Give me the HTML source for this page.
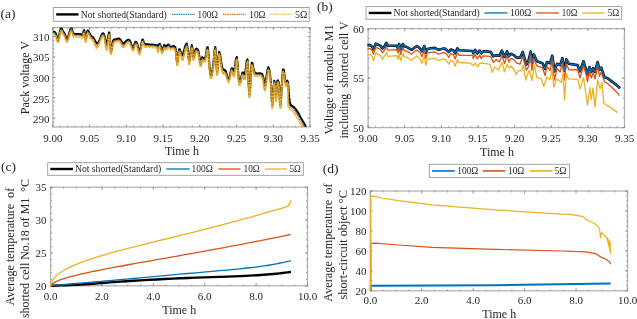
<!DOCTYPE html>
<html><head><meta charset="utf-8"><style>
html,body{margin:0;padding:0;background:#fff;}
body{width:637px;height:319px;overflow:hidden;}
svg{display:block;font-family:"Liberation Serif", serif;filter:blur(0.35px);}
</style></head><body>
<svg width="637" height="319" viewBox="0 0 637 319">
<rect width="637" height="319" fill="#fff"/>
<rect x="52.9" y="27.5" width="257.1" height="99.5" fill="none" stroke="#b3b3b3" stroke-width="1.3"/>
<path d="M52.9 127v-2.6M52.9 27.5v2.6M89.63 127v-2.6M89.63 27.5v2.6M126.36 127v-2.6M126.36 27.5v2.6M163.09 127v-2.6M163.09 27.5v2.6M199.81 127v-2.6M199.81 27.5v2.6M236.54 127v-2.6M236.54 27.5v2.6M273.27 127v-2.6M273.27 27.5v2.6M310 127v-2.6M310 27.5v2.6M52.9 127v-1.5M52.9 27.5v1.5M60.25 127v-1.5M60.25 27.5v1.5M67.59 127v-1.5M67.59 27.5v1.5M74.94 127v-1.5M74.94 27.5v1.5M82.28 127v-1.5M82.28 27.5v1.5M89.63 127v-1.5M89.63 27.5v1.5M96.97 127v-1.5M96.97 27.5v1.5M104.32 127v-1.5M104.32 27.5v1.5M111.67 127v-1.5M111.67 27.5v1.5M119.01 127v-1.5M119.01 27.5v1.5M126.36 127v-1.5M126.36 27.5v1.5M133.7 127v-1.5M133.7 27.5v1.5M141.05 127v-1.5M141.05 27.5v1.5M148.39 127v-1.5M148.39 27.5v1.5M155.74 127v-1.5M155.74 27.5v1.5M163.09 127v-1.5M163.09 27.5v1.5M170.43 127v-1.5M170.43 27.5v1.5M177.78 127v-1.5M177.78 27.5v1.5M185.12 127v-1.5M185.12 27.5v1.5M192.47 127v-1.5M192.47 27.5v1.5M199.81 127v-1.5M199.81 27.5v1.5M207.16 127v-1.5M207.16 27.5v1.5M214.51 127v-1.5M214.51 27.5v1.5M221.85 127v-1.5M221.85 27.5v1.5M229.2 127v-1.5M229.2 27.5v1.5M236.54 127v-1.5M236.54 27.5v1.5M243.89 127v-1.5M243.89 27.5v1.5M251.23 127v-1.5M251.23 27.5v1.5M258.58 127v-1.5M258.58 27.5v1.5M265.93 127v-1.5M265.93 27.5v1.5M273.27 127v-1.5M273.27 27.5v1.5M280.62 127v-1.5M280.62 27.5v1.5M287.96 127v-1.5M287.96 27.5v1.5M295.31 127v-1.5M295.31 27.5v1.5M302.65 127v-1.5M302.65 27.5v1.5M310 127v-1.5M310 27.5v1.5M52.9 118.2h2.6M310 118.2h-2.6M52.9 97.8h2.6M310 97.8h-2.6M52.9 77.4h2.6M310 77.4h-2.6M52.9 57h2.6M310 57h-2.6M52.9 36.6h2.6M310 36.6h-2.6M52.9 122.28h1.5M310 122.28h-1.5M52.9 118.2h1.5M310 118.2h-1.5M52.9 114.12h1.5M310 114.12h-1.5M52.9 110.04h1.5M310 110.04h-1.5M52.9 105.96h1.5M310 105.96h-1.5M52.9 101.88h1.5M310 101.88h-1.5M52.9 97.8h1.5M310 97.8h-1.5M52.9 93.72h1.5M310 93.72h-1.5M52.9 89.64h1.5M310 89.64h-1.5M52.9 85.56h1.5M310 85.56h-1.5M52.9 81.48h1.5M310 81.48h-1.5M52.9 77.4h1.5M310 77.4h-1.5M52.9 73.32h1.5M310 73.32h-1.5M52.9 69.24h1.5M310 69.24h-1.5M52.9 65.16h1.5M310 65.16h-1.5M52.9 61.08h1.5M310 61.08h-1.5M52.9 57h1.5M310 57h-1.5M52.9 52.92h1.5M310 52.92h-1.5M52.9 48.84h1.5M310 48.84h-1.5M52.9 44.76h1.5M310 44.76h-1.5M52.9 40.68h1.5M310 40.68h-1.5M52.9 36.6h1.5M310 36.6h-1.5M52.9 32.52h1.5M310 32.52h-1.5M52.9 28.44h1.5M310 28.44h-1.5" stroke="#8c8c8c" stroke-width="0.8" fill="none"/>
<clipPath id="ca"><rect x="52.9" y="27.5" width="257.1" height="99.5"/></clipPath>
<g clip-path="url(#ca)" fill="none" stroke-linejoin="round">
<polyline points="52.4,31.5 53.08,31.56 54.04,31.68 54.9,32.1 55.5,32.94 56,34.08 56.5,35.4 57.03,37.4 57.56,39.58 58.1,40.3 58.67,38.38 59.25,35.01 59.8,32.1 60.29,30.22 60.74,28.8 61.2,28.1 61.64,28.39 62.08,29.4 62.6,30.5 63.24,31.46 63.95,32.52 64.7,33.8 65.47,35.87 66.28,38.17 67.1,39.1 67.96,37.58 68.82,34.7 69.6,32.1 70.22,30.08 70.75,28.35 71.3,27.7 71.94,28.91 72.61,31.21 73.2,33 73.45,33.61 73.63,33.73 74.4,33.8 76.39,33.93 78.97,34.02 81,34.2 81.91,34.78 82.26,35.45 82.6,35.4 83.1,33.6 83.59,31.08 84.1,30.1 84.65,32.56 85.22,36.56 85.8,38.7 86.34,36.72 86.9,32.87 87.6,30.5 88.56,31.33 89.66,33.63 90.7,35.6 91.58,36.4 92.41,36.87 93.3,37.7 94.36,39.5 95.49,41.66 96.5,43.1 97.25,43.49 97.89,43.16 98.7,42 99.88,39.3 101.23,35.79 102.4,33.5 103.21,33.32 103.85,34.38 104.5,36.1 105.21,39.3 105.93,43.16 106.7,44.7 107.57,40.97 108.49,34.92 109.3,32.4 109.89,37.67 110.36,46.47 110.9,51.89 111.57,50.14 112.31,45 113.1,40.9 113.91,39.64 114.77,39.42 115.7,39.3 116.78,38.93 117.93,38.65 118.9,38.6 119.51,38.8 119.94,39.21 120.5,39.9 121.28,41.21 122.19,42.78 123.2,43.6 124.41,42.97 125.73,41.59 126.9,40.5 127.8,40.03 128.55,39.86 129.2,40 129.7,40.45 130.09,41.23 130.6,42.4 131.33,44.57 132.16,47.13 133,48.31 133.82,46.78 134.64,43.88 135.4,41.9 136.02,41.69 136.58,42.41 137.2,43.8 137.94,46.75 138.75,50.37 139.6,51.74 140.54,48.55 141.52,43.1 142.4,39.5 143.09,39.85 143.67,42.04 144.3,43.8 144.74,44.2 145.22,44.17 146.6,44.2 149.82,44.46 153.94,44.79 157,45.2 157.97,45.93 157.88,46.74 157.9,47 158.44,45.91 159.09,44.26 159.8,43.8 160.58,46 161.42,49.38 162.2,51.25 162.87,49.92 163.49,47.08 164.1,45.1 164.68,45.2 165.25,46.16 165.9,46.7 166.7,46.09 167.57,45.05 168.4,44.5 169.03,44.97 169.61,45.93 170.5,46.7 172.01,46.43 173.81,45.97 175.3,47.2 176.15,52.4 176.67,59.3 177.2,62.94 177.83,59.92 178.45,53.64 179.1,49.3 179.8,49.36 180.53,51.35 181.2,53.1 181.69,54.27 182.11,55.2 182.8,54.7 183.98,50.84 185.42,45.55 186.7,43.5 187.64,48.58 188.42,56.9 189.2,61.41 190.06,57.43 190.92,49.66 191.7,45.1 192.34,47.96 192.9,54.04 193.5,57.77 194.16,56.14 194.84,52.16 195.6,49.3 196.47,48.65 197.41,49.12 198.3,50.9 199.13,55.26 199.91,60.95 200.6,64.35 201.07,63.2 201.44,59.78 202,57.3 202.93,57.66 204.04,58.96 205.1,58.8 206,54.41 206.84,48.55 207.7,47.1 208.63,54.82 209.59,66.95 210.5,75.12 211.33,75.69 212.11,72.31 212.9,67.5 213.72,59.92 214.54,50.93 215.3,47.1 215.93,54.12 216.5,66.3 217.1,73.21 217.74,68.19 218.41,57.89 219.2,51.8 220.16,54.98 221.22,62.37 222.3,68.2 223.36,69.79 224.44,69.83 225.5,70.6 226.54,73.87 227.57,77.87 228.6,79.6 229.66,76.77 230.72,71.67 231.7,68.2 232.54,68.83 233.3,71.09 234.1,71.4 234.99,66.44 235.9,59.53 236.8,57.1 237.62,64.15 238.42,75.68 239.3,83.13 240.34,81.84 241.47,76.47 242.5,72.5 243.35,72.83 244.11,74.55 244.9,74.4 245.78,68.78 246.68,61.28 247.5,59.4 248.17,70.02 248.76,86.26 249.4,94.97 250.14,87.7 250.94,72.9 251.8,62.8 252.56,63.37 253.37,68.63 254.7,72.9 257.04,73.57 259.89,73.23 262.2,74 263.43,78 264.13,83.1 264.9,85 266.01,79.98 267.2,71.76 268.3,67.2 269.27,69.53 270.15,75.53 270.9,82.4 271.43,91.28 271.83,101.04 272.3,105.48 272.93,99.32 273.63,87.84 274.3,80.7 274.93,83.63 275.54,90.9 276.1,95 276.55,91.63 276.95,85.08 277.4,80.7 277.99,80.45 278.63,82.36 279.2,85.9 279.59,93.5 279.92,102.73 280.4,105.73 281.18,96.08 282.12,80.19 283,69.5 283.78,69.8 284.51,75.29 285.1,80 285.48,81.92 285.72,83.07 286,83.5 286.38,82.7 286.79,81.19 287.2,80.6 287.59,81.35 287.98,83.03 288.4,86 288.77,91.31 289.18,97.91 289.9,103.1 291.13,105.42 292.66,106.31 294.2,107.4 295.76,109.42 297.31,111.63 298.5,113.4 298.87,114.01 298.88,114.19 299.5,115.4 301.5,118.93 304.11,123.5 306,126.8" stroke="#000" stroke-width="2.1"/>
<polyline points="52.4,32.4 53.08,32.46 54.04,32.58 54.9,33 55.5,33.82 56,34.93 56.5,36.3 57.03,38.51 57.56,40.97 58.1,41.83 58.67,39.77 59.25,36.12 59.8,33 60.29,31.07 60.74,29.68 61.2,29 61.64,29.29 62.08,30.3 62.6,31.4 63.24,32.34 63.95,33.38 64.7,34.7 65.47,36.95 66.28,39.49 67.1,40.54 67.96,38.9 68.82,35.78 69.6,33 70.22,30.94 70.75,29.23 71.3,28.6 71.94,29.81 72.61,32.11 73.2,33.9 73.45,34.51 73.63,34.63 74.4,34.7 76.39,34.83 78.97,34.92 81,35.1 81.91,35.68 82.26,36.35 82.6,36.3 83.1,34.45 83.59,31.88 84.1,31 84.65,33.88 85.22,38.44 85.8,40.86 86.34,38.6 86.9,34.19 87.6,31.4 88.56,32.13 89.66,34.48 90.7,36.5 91.58,37.21 92.41,37.58 93.3,38.6 94.36,41.24 95.49,44.52 96.5,46.52 97.25,46.35 97.89,44.9 98.7,42.9 99.88,40.02 101.23,36.59 102.4,34.4 103.21,34.11 103.85,35.05 104.5,37 105.21,41.22 105.93,46.44 106.7,48.66 107.57,44.25 108.49,36.85 109.3,33.3 109.89,38.31 110.36,47.19 110.9,52.7 111.57,50.97 112.31,45.87 113.1,41.8 113.91,40.54 114.77,40.32 115.7,40.2 116.78,39.83 117.93,39.55 118.9,39.5 119.51,39.64 119.94,39.99 120.5,40.8 121.28,42.65 122.19,44.94 123.2,46.12 124.41,45.13 125.73,43.03 126.9,41.4 127.8,40.81 128.55,40.7 129.2,40.9 129.7,41.36 130.09,42.14 130.6,43.3 131.33,45.45 132.16,47.98 133,49.15 133.82,47.63 134.64,44.76 135.4,42.8 136.02,42.6 136.58,43.31 137.2,44.7 137.94,47.66 138.75,51.29 139.6,52.67 140.54,49.47 141.52,44.01 142.4,40.4 143.09,40.75 143.67,42.94 144.3,44.7 144.74,45.1 145.22,45.07 146.6,45.1 149.82,45.25 153.94,45.47 157,46.1 157.97,47.79 157.88,49.88 157.9,50.78 158.44,49.05 159.09,46.13 159.8,44.7 160.58,46.65 161.42,50.09 162.2,52.04 162.87,50.69 163.49,47.86 164.1,46 164.68,46.47 165.25,47.91 165.9,48.68 166.7,47.83 167.57,46.31 168.4,45.4 169.03,45.79 169.61,46.79 170.5,47.6 172.01,47.32 173.81,46.86 175.3,48.1 176.15,53.34 176.67,60.28 177.2,63.93 177.83,60.89 178.45,54.57 179.1,50.2 179.8,50.14 180.53,52.02 181.2,54 181.69,56.19 182.11,58.48 182.8,58.66 183.98,54.11 185.42,47.47 186.7,44.4 187.64,49.28 188.42,57.74 189.2,62.38 190.06,58.39 190.92,50.59 191.7,46 192.34,48.81 192.9,54.84 193.5,58.55 194.16,56.95 194.84,53.02 195.6,50.2 196.47,49.56 197.41,50.02 198.3,51.8 199.13,56.16 199.91,61.84 200.6,65.24 201.07,64.09 201.44,60.67 202,58.2 202.93,58.56 204.04,59.86 205.1,59.7 206,55.3 206.84,49.44 207.7,48 208.63,55.76 209.59,67.95 210.5,76.15 211.33,76.69 212.11,73.25 212.9,68.4 213.72,60.81 214.54,51.82 215.3,48 215.93,55.02 216.5,67.2 217.1,74.11 217.74,69.01 218.41,58.63 219.2,52.7 220.16,56.63 221.22,65.02 222.3,71.35 223.36,72.44 224.44,71.48 225.5,71.5 226.54,74.58 227.57,78.64 228.6,80.44 229.66,77.52 230.72,72.34 231.7,69.1 232.54,70.7 233.3,74.23 234.1,75.18 234.99,69.58 235.9,61.39 236.8,58 237.62,64.81 238.42,76.41 239.3,83.96 240.34,82.56 241.47,77.11 242.5,73.4 243.35,74.82 244.11,77.98 244.9,78.54 245.78,72.2 246.68,63.26 247.5,60.3 248.17,70.7 248.76,87.08 249.4,95.92 250.14,88.64 250.94,73.82 251.8,63.7 252.56,64.27 253.37,69.53 254.7,73.8 257.04,74.32 259.89,73.85 262.2,74.9 263.43,80.19 264.13,87.01 264.9,89.77 266.01,83.89 267.2,73.95 268.3,68.1 269.27,70.14 270.15,76.29 270.9,83.3 271.43,92.18 271.83,101.92 272.3,106.36 272.93,100.06 273.63,88.45 274.3,81.6 274.93,85.79 275.54,94.75 276.1,99.68 276.55,95.47 276.95,87.24 277.4,81.6 277.99,81.07 278.63,83.13 279.2,86.8 279.59,94.37 279.92,103.55 280.4,106.53 281.18,96.9 282.12,81.06 283,70.4 283.78,70.71 284.51,76.19 285.1,80.9 285.48,82.82 285.72,83.97 286,84.4 286.38,83.6 286.79,82.09 287.2,81.5 287.61,82.25 288.02,83.93 288.4,86.9 288.6,92.21 288.76,98.81 289.3,104 290.48,106.32 292.04,107.21 293.6,108.3 295.16,110.32 296.71,112.53 297.9,114.3 298.27,114.91 298.28,115.09 298.9,116.3 300.9,119.83 303.51,124.4 305.4,127.7" stroke="#0072BD" stroke-width="1.3" stroke-dasharray="1 0.8"/>
<polyline points="52.4,33.2 53.08,33.26 54.04,33.38 54.9,33.8 55.5,34.62 56,35.74 56.5,37.1 57.03,39.27 57.56,41.67 58.1,42.5 58.67,40.47 59.25,36.87 59.8,33.8 60.29,31.88 60.74,30.49 61.2,29.8 61.64,30.09 62.08,31.1 62.6,32.2 63.24,33.14 63.95,34.19 64.7,35.5 65.47,37.71 66.28,40.18 67.1,41.2 67.96,39.59 68.82,36.53 69.6,33.8 70.22,31.75 70.75,30.04 71.3,29.4 71.94,30.61 72.61,32.91 73.2,34.7 73.45,35.31 73.63,35.43 74.4,35.5 76.39,35.63 78.97,35.72 81,35.9 81.91,36.48 82.26,37.15 82.6,37.1 83.1,35.26 83.59,32.69 84.1,31.8 84.65,34.66 85.22,39.2 85.8,41.6 86.34,39.35 86.9,34.97 87.6,32.2 88.56,32.94 89.66,35.29 90.7,37.3 91.58,38 92.41,38.37 93.3,39.4 94.36,42.06 95.49,45.38 96.5,47.4 97.25,47.21 97.89,45.72 98.7,43.7 99.88,40.81 101.23,37.39 102.4,35.2 103.21,34.9 103.85,35.84 104.5,37.8 105.21,42.06 105.93,47.35 106.7,49.6 107.57,45.15 108.49,37.67 109.3,34.1 109.89,39.2 110.36,48.22 110.9,53.8 111.57,52 112.31,46.77 113.1,42.6 113.91,41.32 114.77,41.11 115.7,41 116.78,40.63 117.93,40.35 118.9,40.3 119.51,40.44 119.94,40.8 120.5,41.6 121.28,43.44 122.19,45.73 123.2,46.9 124.41,45.92 125.73,43.83 126.9,42.2 127.8,41.61 128.55,41.5 129.2,41.7 129.7,42.14 130.09,42.91 130.6,44.1 131.33,46.36 132.16,49.05 133,50.3 133.82,48.7 134.64,45.67 135.4,43.6 136.02,43.35 136.58,44.06 137.2,45.5 137.94,48.63 138.75,52.5 139.6,54 140.54,50.68 141.52,44.99 142.4,41.2 143.09,41.51 143.67,43.72 144.3,45.5 144.74,45.9 145.22,45.87 146.6,45.9 149.82,46.05 153.94,46.26 157,46.9 157.97,48.63 157.88,50.77 157.9,51.7 158.44,49.94 159.09,46.95 159.8,45.5 160.58,47.53 161.42,51.09 162.2,53.1 162.87,51.7 163.49,48.76 164.1,46.8 164.68,47.22 165.25,48.63 165.9,49.4 166.7,48.56 167.57,47.08 168.4,46.2 169.03,46.6 169.61,47.59 170.5,48.4 172.01,48.1 173.81,47.61 175.3,48.9 176.15,54.36 176.67,61.6 177.2,65.4 177.83,62.21 178.45,55.6 179.1,51 179.8,50.88 180.53,52.79 181.2,54.8 181.69,57.04 182.11,59.39 182.8,59.6 183.98,55 185.42,48.27 186.7,45.2 187.64,50.27 188.42,59.01 189.2,63.8 190.06,59.67 190.92,51.58 191.7,46.8 192.34,49.65 192.9,55.81 193.5,59.6 194.16,57.94 194.84,53.9 195.6,51 196.47,50.32 197.41,50.78 198.3,52.6 199.13,57.11 199.91,63 200.6,66.5 201.07,65.25 201.44,61.63 202,59 202.93,59.32 204.04,60.64 205.1,60.5 206,56.07 206.84,50.18 207.7,48.8 208.63,56.81 209.59,69.33 210.5,77.7 211.33,78.08 212.11,74.3 212.9,69.2 213.72,61.54 214.54,52.56 215.3,48.8 215.93,55.98 216.5,68.39 217.1,75.4 217.74,70.19 218.41,59.59 219.2,53.5 220.16,57.41 221.22,65.84 222.3,72.2 223.36,73.27 224.44,72.27 225.5,72.3 226.54,75.5 227.57,79.71 228.6,81.6 229.66,78.59 230.72,73.25 231.7,69.9 232.54,71.51 233.3,75.11 234.1,76.1 234.99,70.46 235.9,62.21 236.8,58.8 237.62,65.71 238.42,77.47 239.3,85.1 240.34,83.62 241.47,78.01 242.5,74.2 243.35,75.64 244.11,78.89 244.9,79.5 245.78,73.1 246.68,64.07 247.5,61.1 248.17,71.68 248.76,88.32 249.4,97.3 250.14,89.89 250.94,74.81 251.8,64.5 252.56,65.02 253.37,70.31 254.7,74.6 257.04,75.11 259.89,74.63 262.2,75.7 263.43,81.07 264.13,87.99 264.9,90.8 266.01,84.87 267.2,74.82 268.3,68.9 269.27,70.91 270.15,77.04 270.9,84.1 271.43,93.12 271.83,103.07 272.3,107.6 272.93,101.2 273.63,89.38 274.3,82.4 274.93,86.63 275.54,95.7 276.1,100.7 276.55,96.44 276.95,88.11 277.4,82.4 277.99,81.84 278.63,83.9 279.2,87.6 279.59,95.26 279.92,104.56 280.4,107.6 281.18,97.91 282.12,81.95 283,71.2 283.78,71.49 284.51,76.98 285.1,81.7 285.48,83.62 285.72,84.77 286,85.2 286.38,84.4 286.79,82.89 287.2,82.3 287.63,83.05 288.07,84.73 288.4,87.7 288.42,93.01 288.34,99.61 288.7,104.8 289.84,107.12 291.42,108.01 293,109.1 294.56,111.12 296.11,113.33 297.3,115.1 297.67,115.71 297.68,115.89 298.3,117.1 300.3,120.63 302.91,125.2 304.8,128.5" stroke="#D95319" stroke-width="1.4" stroke-dasharray="1 0.8"/>
<polyline points="52.4,34.3 53.08,34.36 54.04,34.48 54.9,34.9 55.5,35.74 56,36.88 56.5,38.2 57.03,40.2 57.56,42.38 58.1,43.1 58.67,41.18 59.25,37.81 59.8,34.9 60.29,33.02 60.74,31.6 61.2,30.9 61.64,31.19 62.08,32.2 62.6,33.3 63.24,34.26 63.95,35.32 64.7,36.6 65.47,38.67 66.28,40.97 67.1,41.9 67.96,40.38 68.82,37.5 69.6,34.9 70.22,32.88 70.75,31.15 71.3,30.5 71.94,31.71 72.61,34.01 73.2,35.8 73.45,36.41 73.63,36.53 74.4,36.6 76.39,36.73 78.97,36.82 81,37 81.91,37.58 82.26,38.25 82.6,38.2 83.1,36.38 83.59,33.84 84.1,32.9 84.65,35.53 85.22,39.75 85.8,42 86.34,39.91 86.9,35.84 87.6,33.3 88.56,34.09 89.66,36.41 90.7,38.4 91.58,39.13 92.41,39.53 93.3,40.5 94.36,42.93 95.49,45.94 96.5,47.8 97.25,47.77 97.89,46.59 98.7,44.8 99.88,41.96 101.23,38.51 102.4,36.3 103.21,36.03 103.85,36.99 104.5,38.9 105.21,42.93 105.93,47.9 106.7,50 107.57,45.73 108.49,38.59 109.3,35.2 109.89,40.12 110.36,48.8 110.9,54.2 111.57,52.56 112.31,47.63 113.1,43.7 113.91,42.47 114.77,42.24 115.7,42.1 116.78,41.73 117.93,41.45 118.9,41.4 119.51,41.56 119.94,41.95 120.5,42.7 121.28,44.31 122.19,46.28 123.2,47.3 124.41,46.47 125.73,44.69 126.9,43.3 127.8,42.77 128.55,42.62 129.2,42.8 129.7,43.27 130.09,44.06 130.6,45.2 131.33,47.23 132.16,49.6 133,50.7 133.82,49.26 134.64,46.54 135.4,44.7 136.02,44.53 136.58,45.24 137.2,46.6 137.94,49.5 138.75,53.06 139.6,54.4 140.54,51.23 141.52,45.86 142.4,42.3 143.09,42.66 143.67,44.85 144.3,46.6 144.74,47 145.22,46.97 146.6,47 149.82,47.17 153.94,47.41 157,48 157.97,49.49 157.88,51.33 157.9,52.1 158.44,50.52 159.09,47.87 159.8,46.6 160.58,48.44 161.42,51.67 162.2,53.5 162.87,52.28 163.49,49.67 164.1,47.9 164.68,48.14 165.25,49.21 165.9,49.8 166.7,49.12 167.57,47.95 168.4,47.3 169.03,47.75 169.61,48.72 170.5,49.5 172.01,49.23 173.81,48.76 175.3,50 176.15,55.23 176.67,62.15 177.2,65.8 177.83,62.77 178.45,56.46 179.1,52.1 179.8,52.06 180.53,53.96 181.2,55.9 181.69,57.9 182.11,59.94 182.8,60 183.98,55.58 185.42,49.19 186.7,46.3 187.64,51.19 188.42,59.6 189.2,64.2 190.06,60.25 190.92,52.5 191.7,47.9 192.34,50.57 192.9,56.4 193.5,60 194.16,58.5 194.84,54.77 195.6,52.1 196.47,51.5 197.41,51.96 198.3,53.7 199.13,57.98 199.91,63.55 200.6,66.9 201.07,65.81 201.44,62.49 202,60.1 202.93,60.47 204.04,61.77 205.1,61.6 206,57.2 206.84,51.33 207.7,49.9 208.63,57.68 209.59,69.89 210.5,78.1 211.33,78.63 212.11,75.17 212.9,70.3 213.72,62.72 214.54,53.74 215.3,49.9 215.93,56.85 216.5,68.94 217.1,75.8 217.74,70.77 218.41,60.51 219.2,54.6 220.16,58.33 221.22,66.42 222.3,72.6 223.36,73.85 224.44,73.19 225.5,73.4 226.54,76.41 227.57,80.3 228.6,82 229.66,79.17 230.72,74.17 231.7,71 232.54,72.43 233.3,75.69 234.1,76.5 234.99,71.04 235.9,63.13 236.8,59.9 237.62,66.63 238.42,78.06 239.3,85.5 240.34,84.2 241.47,78.93 242.5,75.3 243.35,76.56 244.11,79.47 244.9,79.9 245.78,73.68 246.68,64.99 247.5,62.2 248.17,72.6 248.76,88.9 249.4,97.7 250.14,90.44 250.94,75.68 251.8,65.6 252.56,66.17 253.37,71.44 254.7,75.7 257.04,76.24 259.89,75.78 262.2,76.8 263.43,81.93 264.13,88.54 264.9,91.2 266.01,85.42 267.2,75.69 268.3,70 269.27,72.09 270.15,78.22 270.9,85.2 271.43,93.99 271.83,103.62 272.3,108 272.93,101.78 273.63,90.3 274.3,83.5 274.93,87.55 275.54,96.28 276.1,101.1 276.55,97 276.95,88.98 277.4,83.5 277.99,83.02 278.63,85.08 279.2,88.7 279.59,96.13 279.92,105.12 280.4,108 281.18,98.46 282.12,82.81 283,72.3 283.78,72.64 284.51,78.11 285.1,82.8 285.48,84.72 285.72,85.87 286,86.3 286.38,85.5 286.79,83.99 287.2,83.4 287.66,84.15 288.12,85.83 288.4,88.8 288.21,94.11 287.84,100.71 288,105.9 289.09,108.22 290.69,109.11 292.3,110.2 293.86,112.22 295.41,114.43 296.6,116.2 296.97,116.81 296.98,116.99 297.6,118.2 299.6,121.73 302.21,126.3 304.1,129.6" stroke="#EDB120" stroke-width="2.2" stroke-dasharray="1 0.45"/>
</g>
<text x="49.5" y="123.1" font-size="11" text-anchor="end" fill="#262626">290</text>
<text x="49.5" y="102.52" font-size="11" text-anchor="end" fill="#262626">295</text>
<text x="49.5" y="81.95" font-size="11" text-anchor="end" fill="#262626">300</text>
<text x="49.5" y="61.38" font-size="11" text-anchor="end" fill="#262626">305</text>
<text x="49.5" y="40.8" font-size="11" text-anchor="end" fill="#262626">310</text>
<text x="52.9" y="141.5" font-size="11" text-anchor="middle" fill="#262626">9.00</text>
<text x="89.63" y="141.5" font-size="11" text-anchor="middle" fill="#262626">9.05</text>
<text x="126.36" y="141.5" font-size="11" text-anchor="middle" fill="#262626">9.10</text>
<text x="163.09" y="141.5" font-size="11" text-anchor="middle" fill="#262626">9.15</text>
<text x="199.81" y="141.5" font-size="11" text-anchor="middle" fill="#262626">9.20</text>
<text x="236.54" y="141.5" font-size="11" text-anchor="middle" fill="#262626">9.25</text>
<text x="273.27" y="141.5" font-size="11" text-anchor="middle" fill="#262626">9.30</text>
<text x="310" y="141.5" font-size="11" text-anchor="middle" fill="#262626">9.35</text>
<text x="182" y="155.3" font-size="12" text-anchor="middle" fill="#262626">Time h</text>
<text x="28.6" y="77.6" font-size="12" text-anchor="middle" fill="#262626" transform="rotate(-90 28.6 77.6)">Pack voltage V</text>
<text x="0.6" y="17.6" font-size="13.5" text-anchor="start" fill="#262626">(a)</text>
<rect x="53.3" y="7.5" width="255.9" height="13.8" fill="#fff" stroke="#9a9a9a" stroke-width="0.9"/>
<path d="M56.2 14.4H78.5" stroke="#000" stroke-width="2.4"/>
<text x="80.8" y="17.7" font-size="9.5" text-anchor="start" fill="#262626" textLength="86" lengthAdjust="spacingAndGlyphs">Not shorted(Standard)</text>
<path d="M171.9 14.4H195.4" stroke="#0072BD" stroke-width="1.4" stroke-dasharray="1 0.8"/>
<text x="197.6" y="17.7" font-size="9.5" text-anchor="start" fill="#262626" textLength="20.4" lengthAdjust="spacingAndGlyphs">100&#937;</text>
<path d="M223 14.4H246" stroke="#D95319" stroke-width="1.4" stroke-dasharray="1 0.8"/>
<text x="249.3" y="17.7" font-size="9.5" text-anchor="start" fill="#262626" textLength="16.2" lengthAdjust="spacingAndGlyphs">10&#937;</text>
<path d="M269.7 14.4H292.7" stroke="#EDB120" stroke-width="1.4" stroke-dasharray="1 0.8"/>
<text x="295" y="17.7" font-size="9.5" text-anchor="start" fill="#262626" textLength="12.3" lengthAdjust="spacingAndGlyphs">5&#937;</text>
<rect x="368.1" y="28.6" width="256.4" height="99" fill="none" stroke="#b3b3b3" stroke-width="1.3"/>
<path d="M368.1 127.6v-2.6M368.1 28.6v2.6M404.73 127.6v-2.6M404.73 28.6v2.6M441.36 127.6v-2.6M441.36 28.6v2.6M477.99 127.6v-2.6M477.99 28.6v2.6M514.61 127.6v-2.6M514.61 28.6v2.6M551.24 127.6v-2.6M551.24 28.6v2.6M587.87 127.6v-2.6M587.87 28.6v2.6M624.5 127.6v-2.6M624.5 28.6v2.6M368.1 127.6v-1.5M368.1 28.6v1.5M375.43 127.6v-1.5M375.43 28.6v1.5M382.75 127.6v-1.5M382.75 28.6v1.5M390.08 127.6v-1.5M390.08 28.6v1.5M397.4 127.6v-1.5M397.4 28.6v1.5M404.73 127.6v-1.5M404.73 28.6v1.5M412.05 127.6v-1.5M412.05 28.6v1.5M419.38 127.6v-1.5M419.38 28.6v1.5M426.71 127.6v-1.5M426.71 28.6v1.5M434.03 127.6v-1.5M434.03 28.6v1.5M441.36 127.6v-1.5M441.36 28.6v1.5M448.68 127.6v-1.5M448.68 28.6v1.5M456.01 127.6v-1.5M456.01 28.6v1.5M463.33 127.6v-1.5M463.33 28.6v1.5M470.66 127.6v-1.5M470.66 28.6v1.5M477.99 127.6v-1.5M477.99 28.6v1.5M485.31 127.6v-1.5M485.31 28.6v1.5M492.64 127.6v-1.5M492.64 28.6v1.5M499.96 127.6v-1.5M499.96 28.6v1.5M507.29 127.6v-1.5M507.29 28.6v1.5M514.61 127.6v-1.5M514.61 28.6v1.5M521.94 127.6v-1.5M521.94 28.6v1.5M529.27 127.6v-1.5M529.27 28.6v1.5M536.59 127.6v-1.5M536.59 28.6v1.5M543.92 127.6v-1.5M543.92 28.6v1.5M551.24 127.6v-1.5M551.24 28.6v1.5M558.57 127.6v-1.5M558.57 28.6v1.5M565.89 127.6v-1.5M565.89 28.6v1.5M573.22 127.6v-1.5M573.22 28.6v1.5M580.55 127.6v-1.5M580.55 28.6v1.5M587.87 127.6v-1.5M587.87 28.6v1.5M595.2 127.6v-1.5M595.2 28.6v1.5M602.52 127.6v-1.5M602.52 28.6v1.5M609.85 127.6v-1.5M609.85 28.6v1.5M617.17 127.6v-1.5M617.17 28.6v1.5M624.5 127.6v-1.5M624.5 28.6v1.5M368.1 127.6h2.6M624.5 127.6h-2.6M368.1 78.1h2.6M624.5 78.1h-2.6M368.1 28.6h2.6M624.5 28.6h-2.6M368.1 127.6h1.5M624.5 127.6h-1.5M368.1 117.7h1.5M624.5 117.7h-1.5M368.1 107.8h1.5M624.5 107.8h-1.5M368.1 97.9h1.5M624.5 97.9h-1.5M368.1 88h1.5M624.5 88h-1.5M368.1 78.1h1.5M624.5 78.1h-1.5M368.1 68.2h1.5M624.5 68.2h-1.5M368.1 58.3h1.5M624.5 58.3h-1.5M368.1 48.4h1.5M624.5 48.4h-1.5M368.1 38.5h1.5M624.5 38.5h-1.5M368.1 28.6h1.5M624.5 28.6h-1.5" stroke="#8c8c8c" stroke-width="0.8" fill="none"/>
<g fill="none" stroke-linejoin="round">
<polyline points="367.5,45.1 370.1,45.1 372,46.6 373.5,49.3 375.8,43.6 378,44.8 380.7,45.9 382.5,48.5 384.4,46.3 386.3,42.9 387.8,45.5 396.8,45.9 398,48.5 399.1,44 400.6,49.3 402.8,44 404.3,46.5 407,47.1 411.5,49.8 413.8,48.3 416.8,46 419.8,48.3 422,51.3 424.3,46 425.8,52.8 427.3,49 431.1,48.3 434.8,47.9 438.6,49.8 441.6,49 444.3,48.4 446.5,49.9 448.8,52.2 450.6,49.5 453.3,50.3 455.2,53.3 457.4,48.4 458.9,50.3 472.8,51 473.2,53.3 475.1,49.9 477.3,53.3 479.6,50.6 481.3,53.3 483.2,51.3 490.7,51.9 493.2,56.3 496.3,55.1 499.5,55.7 502,50.7 504.5,57 507,51.3 508.9,56.3 510.8,53.8 513.9,55.1 516.4,57.6 520.2,57.6 522.7,51.9 526.4,64.5 528.3,61.3 530.7,51.5 531.9,62.6 533.8,54.4 536.9,61.3 542.5,63.2 545.1,68.9 546.9,62 550.1,63.2 552.3,55.7 554.5,71.4 557,63.8 560.1,65.1 562.4,58.2 564.4,71 566.4,59.4 568.9,63.8 577.5,65.1 580,71.3 583.5,61.3 586.3,70.1 587.5,75.1 589.4,67 591.3,72 593.2,68.2 595,72 597.6,62 599.5,70 601.3,67.6 604.5,77.3 607.6,78.3 611.4,81.1 616.4,85 620.2,88.2" stroke="#000" stroke-width="2.6"/>
<polyline points="367.5,45.1 370.1,45.1 372,46.6 373.5,49.3 375.8,43.6 378,44.8 380.7,45.9 382.5,48.5 384.4,46.3 386.3,42.9 387.8,45.5 396.8,45.9 398,48.5 399.1,44 400.6,49.3 402.8,44 404.3,46.5 407,47.1 411.5,49.8 413.8,48.3 416.8,46 419.8,48.3 422,51.3 424.3,46 425.8,52.8 427.3,49 431.1,48.3 434.8,47.9 438.6,49.8 441.6,49 444.3,48.4 446.5,49.9 448.8,52.2 450.6,49.5 453.3,50.3 455.2,53.3 457.4,48.4 458.9,50.3 472.8,51 473.2,53.3 475.1,49.9 477.3,53.3 479.6,50.6 481.3,53.3 483.2,51.3 490.7,51.9 493.2,56.3 496.3,55.1 499.5,55.7 502,50.7 504.5,57 507,51.3 508.9,56.3 510.8,53.8 513.9,55.1 516.4,57.6 520.2,57.6 522.7,51.9 526.4,64.5 528.3,61.3 530.7,51.5 531.9,62.6 533.8,54.4 536.9,61.3 542.5,63.2 545.1,68.9 546.9,62 550.1,63.2 552.3,55.7 554.5,71.4 557,63.8 560.1,65.1 562.4,58.2 564.4,71 566.4,59.4 568.9,63.8 577.5,65.1 580,71.3 583.5,61.3 586.3,70.1 587.5,75.1 589.4,67 591.3,72 593.2,68.2 595,72 597.6,62 599.5,70 601.3,67.6 604.5,77.3 607.6,78.3 611.4,81.1 616.4,85 620.2,88.2" stroke="#0072BD" stroke-width="1.3"/>
<polyline points="367.5,48.6 370.1,48.62 372,50.14 373.5,54.32 375.8,47.17 378,48.41 380.7,49.51 382.5,52.97 384.4,50.16 386.3,46.56 387.8,50.09 396.8,49.66 398,53 399.1,47.78 400.6,54.42 402.8,47.81 404.3,50.66 407,51.16 411.5,54.21 413.8,52.35 416.8,49.94 419.8,52.26 422,56.73 424.3,50 425.8,58.67 427.3,53.03 431.1,52.36 434.8,52 438.6,54.21 441.6,53.16 444.3,52.58 446.5,54.1 448.8,57.3 450.6,53.74 453.3,54.56 455.2,58.96 457.4,52.7 458.9,55.28 472.8,55.44 473.2,58.74 475.1,54.36 477.3,58.84 479.6,55.1 481.3,58.62 483.2,55.8 490.7,56.4 493.2,62.34 496.3,59.6 499.5,61.95 502,55.2 504.5,63.6 507,55.8 508.9,62.11 510.8,58.3 513.9,59.6 516.4,62.98 520.2,64.09 522.7,56.4 526.4,70.12 528.3,66.95 530.7,56 531.9,70.48 533.8,58.9 536.9,65.8 542.5,67.7 545.1,75.61 546.9,66.5 550.1,70.33 552.3,60.2 554.5,79.98 557,68.3 560.1,72.01 562.4,62.7 564.4,79.77 566.4,63.9 568.9,69.84 577.5,69.6 580,77.97 583.5,65.8 586.3,75.27 587.5,81.89 589.4,71.5 591.3,78.04 593.2,72.7 595,78.92 597.6,66.5 599.5,76.32 601.3,72.1 604.5,81.89 607.6,83.47 611.4,86.99 616.4,91.82 619.5,95.7" stroke="#D95319" stroke-width="1.3"/>
<polyline points="367.5,54.49 370.1,54.53 372,56.06 373.5,60.67 375.8,53.11 378,54.37 380.7,55.48 382.5,59.19 384.4,56.21 386.3,52.56 387.8,56.36 396.8,55.72 398,59.28 399.1,53.85 400.6,60.88 402.8,53.9 404.3,56.85 407,57.33 411.5,60.5 413.8,58.54 416.8,56.11 419.8,58.45 422,63.35 424.3,56.21 425.8,65.42 427.3,59.26 431.1,58.61 434.8,58.27 438.6,60.58 441.6,59.47 444.3,58.92 446.5,60.54 448.8,64.1 450.6,60.38 453.3,61.34 455.2,66.22 457.4,59.67 458.9,62.51 470,63.1 473.1,65.6 475,63 477.5,66.9 479.5,63.5 482.5,63.1 490,64.4 492.3,72.5 494.5,66.9 498.2,70 502,62.5 504.5,71.9 507,64.4 509,68 511,66 513.9,69.4 516.4,74.4 518.3,70.7 521.5,70.7 523.3,65 525.8,80.1 527.5,74.4 529.4,70 531.9,80.7 534.4,65 536.9,77.6 541.3,78.8 543.8,86.3 547,77 550.1,79.4 552,69.4 553.9,87 556.4,78.8 559,80.7 561.4,82.6 563.3,72.5 564.5,100 566.4,73.8 568.3,78.8 577.7,79.4 580.2,88.9 583.5,77.5 587.5,105 590,87.5 591.3,99.5 593,88 595,107 597.6,80 600.1,88.8 602,82.5 603.9,103.5 608.9,106.4 617.7,112.6" stroke="#EDB120" stroke-width="1.3"/>
</g>
<text x="364" y="132.3" font-size="11" text-anchor="end" fill="#262626">50</text>
<text x="364" y="82.4" font-size="11" text-anchor="end" fill="#262626">55</text>
<text x="364" y="32.9" font-size="11" text-anchor="end" fill="#262626">60</text>
<text x="368.1" y="141.5" font-size="11" text-anchor="middle" fill="#262626">9.00</text>
<text x="404.73" y="141.5" font-size="11" text-anchor="middle" fill="#262626">9.05</text>
<text x="441.36" y="141.5" font-size="11" text-anchor="middle" fill="#262626">9.10</text>
<text x="477.99" y="141.5" font-size="11" text-anchor="middle" fill="#262626">9.15</text>
<text x="514.61" y="141.5" font-size="11" text-anchor="middle" fill="#262626">9.20</text>
<text x="551.24" y="141.5" font-size="11" text-anchor="middle" fill="#262626">9.25</text>
<text x="587.87" y="141.5" font-size="11" text-anchor="middle" fill="#262626">9.30</text>
<text x="624.5" y="141.5" font-size="11" text-anchor="middle" fill="#262626">9.35</text>
<text x="497" y="155.7" font-size="12" text-anchor="middle" fill="#262626">Time h</text>
<text x="332.8" y="79.5" font-size="12" text-anchor="middle" fill="#262626" transform="rotate(-90 332.8 79.5)" textLength="110" lengthAdjust="spacingAndGlyphs">Voltage of module M1</text>
<text x="347.9" y="80" font-size="12" text-anchor="middle" fill="#262626" transform="rotate(-90 347.9 80)" textLength="117" lengthAdjust="spacingAndGlyphs">including&#160; shorted cell V</text>
<text x="317" y="10.9" font-size="13.5" text-anchor="start" fill="#262626">(b)</text>
<rect x="366" y="6.6" width="255.7" height="12.7" fill="#fff" stroke="#9a9a9a" stroke-width="0.9"/>
<path d="M368.8 12.95H391.4" stroke="#000" stroke-width="2.4"/>
<text x="393.4" y="16.25" font-size="9.5" text-anchor="start" fill="#262626" textLength="86.4" lengthAdjust="spacingAndGlyphs">Not shorted(Standard)</text>
<path d="M484.4 12.95H507.6" stroke="#0072BD" stroke-width="1.3"/>
<text x="510" y="16.25" font-size="9.5" text-anchor="start" fill="#262626" textLength="21.3" lengthAdjust="spacingAndGlyphs">100&#937;</text>
<path d="M536.2 12.95H558.9" stroke="#D95319" stroke-width="1.3"/>
<text x="561.8" y="16.25" font-size="9.5" text-anchor="start" fill="#262626" textLength="15.6" lengthAdjust="spacingAndGlyphs">10&#937;</text>
<path d="M582.3 12.95H604.5" stroke="#EDB120" stroke-width="1.3"/>
<text x="607.7" y="16.25" font-size="9.5" text-anchor="start" fill="#262626" textLength="11.6" lengthAdjust="spacingAndGlyphs">5&#937;</text>
<rect x="50.6" y="187.2" width="256.9" height="98.6" fill="none" stroke="#b3b3b3" stroke-width="1.3"/>
<path d="M50.6 285.8v-2.6M50.6 187.2v2.6M101.98 285.8v-2.6M101.98 187.2v2.6M153.36 285.8v-2.6M153.36 187.2v2.6M204.74 285.8v-2.6M204.74 187.2v2.6M256.12 285.8v-2.6M256.12 187.2v2.6M307.5 285.8v-2.6M307.5 187.2v2.6M50.6 285.8v-1.5M50.6 187.2v1.5M63.45 285.8v-1.5M63.45 187.2v1.5M76.29 285.8v-1.5M76.29 187.2v1.5M89.13 285.8v-1.5M89.13 187.2v1.5M101.98 285.8v-1.5M101.98 187.2v1.5M114.82 285.8v-1.5M114.82 187.2v1.5M127.67 285.8v-1.5M127.67 187.2v1.5M140.51 285.8v-1.5M140.51 187.2v1.5M153.36 285.8v-1.5M153.36 187.2v1.5M166.2 285.8v-1.5M166.2 187.2v1.5M179.05 285.8v-1.5M179.05 187.2v1.5M191.89 285.8v-1.5M191.89 187.2v1.5M204.74 285.8v-1.5M204.74 187.2v1.5M217.58 285.8v-1.5M217.58 187.2v1.5M230.43 285.8v-1.5M230.43 187.2v1.5M243.27 285.8v-1.5M243.27 187.2v1.5M256.12 285.8v-1.5M256.12 187.2v1.5M268.96 285.8v-1.5M268.96 187.2v1.5M281.81 285.8v-1.5M281.81 187.2v1.5M294.65 285.8v-1.5M294.65 187.2v1.5M307.5 285.8v-1.5M307.5 187.2v1.5M50.6 285.8h2.6M307.5 285.8h-2.6M50.6 252.93h2.6M307.5 252.93h-2.6M50.6 220.07h2.6M307.5 220.07h-2.6M50.6 187.2h2.6M307.5 187.2h-2.6M50.6 285.8h1.5M307.5 285.8h-1.5M50.6 279.23h1.5M307.5 279.23h-1.5M50.6 272.65h1.5M307.5 272.65h-1.5M50.6 266.08h1.5M307.5 266.08h-1.5M50.6 259.51h1.5M307.5 259.51h-1.5M50.6 252.93h1.5M307.5 252.93h-1.5M50.6 246.36h1.5M307.5 246.36h-1.5M50.6 239.79h1.5M307.5 239.79h-1.5M50.6 233.21h1.5M307.5 233.21h-1.5M50.6 226.64h1.5M307.5 226.64h-1.5M50.6 220.07h1.5M307.5 220.07h-1.5M50.6 213.49h1.5M307.5 213.49h-1.5M50.6 206.92h1.5M307.5 206.92h-1.5M50.6 200.35h1.5M307.5 200.35h-1.5M50.6 193.77h1.5M307.5 193.77h-1.5M50.6 187.2h1.5M307.5 187.2h-1.5" stroke="#8c8c8c" stroke-width="0.8" fill="none"/>
<g fill="none" stroke-linejoin="round">
<polyline points="50.8,285.8 53.49,285.69 57.06,285.56 61.32,285.4 66.05,285.22 71.05,285.02 76.11,284.79 81.03,284.56 85.6,284.3 89.74,284.02 93.63,283.72 97.4,283.4 101.22,283.06 105.24,282.71 109.61,282.35 114.48,281.97 120,281.6 126.28,281.21 133.2,280.79 140.62,280.36 148.4,279.92 156.38,279.48 164.4,279.06 172.32,278.66 180,278.3 187.71,277.97 195.7,277.66 203.82,277.38 211.88,277.11 219.7,276.85 227.11,276.6 233.94,276.35 240,276.1 245.25,275.86 249.82,275.64 253.84,275.42 257.44,275.21 260.73,275 263.84,274.78 266.89,274.55 270,274.3 273.2,274.01 276.38,273.69 279.46,273.34 282.38,272.99 285.06,272.65 287.44,272.35 289.44,272.09 291,271.9" stroke="#000" stroke-width="2.4"/>
<polyline points="50.8,285.6 53.49,285.38 57.06,285.08 61.32,284.73 66.05,284.34 71.05,283.92 76.11,283.5 81.03,283.09 85.6,282.7 89.74,282.35 93.63,282.02 97.4,281.69 101.22,281.36 105.24,281.01 109.61,280.63 114.48,280.2 120,279.7 126.28,279.13 133.2,278.5 140.62,277.82 148.4,277.1 156.38,276.37 164.4,275.63 172.32,274.9 180,274.2 187.71,273.51 195.7,272.81 203.82,272.1 211.88,271.39 219.7,270.7 227.11,270.04 233.94,269.4 240,268.8 245.25,268.25 249.82,267.75 253.84,267.28 257.44,266.83 260.73,266.39 263.84,265.95 266.89,265.49 270,265 273.2,264.46 276.38,263.86 279.46,263.24 282.38,262.61 285.06,262.02 287.44,261.48 289.44,261.04 291,260.7" stroke="#0072BD" stroke-width="1.3"/>
<polyline points="50.6,286.6 50.94,285.44 51.64,284.53 52.59,283.69 53.75,282.89 55.1,282.12 56.63,281.38 58.31,280.65 60.15,279.93 62.13,279.23 64.25,278.53 66.5,277.84 68.88,277.15 71.37,276.47 73.99,275.78 76.72,275.1 79.56,274.42 82.51,273.74 85.56,273.06 88.72,272.37 91.98,271.69 95.34,271 98.8,270.3 102.35,269.6 106,268.89 109.74,268.18 113.57,267.46 117.49,266.73 121.5,265.99 125.59,265.25 129.77,264.49 134.03,263.72 138.38,262.95 142.81,262.16 147.32,261.36 151.92,260.55 156.59,259.72 161.34,258.89 166.16,258.03 171.07,257.16 176.05,256.28 181.1,255.38 186.23,254.46 191.44,253.53 196.71,252.58 202.06,251.61 207.49,250.62 212.98,249.62 218.54,248.59 224.17,247.54 229.88,246.47 235.65,245.38 241.49,244.27 247.39,243.13 253.37,241.97 259.41,240.79 265.52,239.58 271.69,238.35 277.93,237.09 284.23,235.8 290.6,234.49" stroke="#D95319" stroke-width="1.3"/>
<polyline points="50.6,286.6 50.94,284.01 51.63,282.04 52.56,280.28 53.71,278.64 55.05,277.09 56.55,275.62 58.22,274.21 60.03,272.85 61.99,271.54 64.08,270.26 66.3,269.02 68.65,267.81 71.11,266.62 73.69,265.46 76.39,264.31 79.2,263.19 82.11,262.08 85.13,260.99 88.25,259.9 91.47,258.83 94.78,257.76 98.2,256.7 101.71,255.64 105.31,254.59 109,253.53 112.78,252.48 116.65,251.42 120.61,250.36 124.65,249.3 128.78,248.23 132.99,247.15 137.29,246.06 141.66,244.96 146.12,243.85 150.65,242.72 155.26,241.58 159.95,240.42 164.72,239.25 169.56,238.06 174.48,236.85 179.47,235.62 184.54,234.36 189.68,233.08 194.89,231.78 200.17,230.45 205.52,229.09 210.95,227.7 216.44,226.29 222,224.84 227.63,223.36 233.33,221.85 239.1,220.3 244.93,218.71 250.83,217.09 256.8,215.43 262.83,213.72 268.93,211.98 275.09,210.2 281.31,208.37 287.6,206.49 289.8,203.5 291,200.1" stroke="#EDB120" stroke-width="1.3"/>
</g>
<text x="46.6" y="289.6" font-size="11" text-anchor="end" fill="#262626">20</text>
<text x="46.6" y="256.73" font-size="11" text-anchor="end" fill="#262626">25</text>
<text x="46.6" y="223.87" font-size="11" text-anchor="end" fill="#262626">30</text>
<text x="46.6" y="191" font-size="11" text-anchor="end" fill="#262626">35</text>
<text x="50.6" y="300.2" font-size="11" text-anchor="middle" fill="#262626">0.0</text>
<text x="101.98" y="300.2" font-size="11" text-anchor="middle" fill="#262626">2.0</text>
<text x="153.36" y="300.2" font-size="11" text-anchor="middle" fill="#262626">4.0</text>
<text x="204.74" y="300.2" font-size="11" text-anchor="middle" fill="#262626">6.0</text>
<text x="256.12" y="300.2" font-size="11" text-anchor="middle" fill="#262626">8.0</text>
<text x="307.5" y="300.2" font-size="11" text-anchor="middle" fill="#262626">10.0</text>
<text x="179.2" y="313.9" font-size="12" text-anchor="middle" fill="#262626">Time h</text>
<text x="14.5" y="246.6" font-size="12" text-anchor="middle" fill="#262626" transform="rotate(-90 14.5 246.6)" textLength="117.7" lengthAdjust="spacingAndGlyphs">Average temperature&#160; of</text>
<text x="29" y="248.6" font-size="12" text-anchor="middle" fill="#262626" transform="rotate(-90 29 248.6)" textLength="139" lengthAdjust="spacingAndGlyphs">shorted cell No.18 of M1&#160; &#176;C</text>
<text x="1" y="170.5" font-size="13.5" text-anchor="start" fill="#262626">(c)</text>
<rect x="47.7" y="162.7" width="255.6" height="12.6" fill="#fff" stroke="#9a9a9a" stroke-width="0.9"/>
<path d="M50.3 169H72.9" stroke="#000" stroke-width="2.4"/>
<text x="74.9" y="172.3" font-size="9.5" text-anchor="start" fill="#262626" textLength="86.4" lengthAdjust="spacingAndGlyphs">Not shorted(Standard)</text>
<path d="M166.3 169H189.7" stroke="#0072BD" stroke-width="1.3"/>
<text x="191.5" y="172.3" font-size="9.5" text-anchor="start" fill="#262626" textLength="21.3" lengthAdjust="spacingAndGlyphs">100&#937;</text>
<path d="M218.3 169H240.5" stroke="#D95319" stroke-width="1.3"/>
<text x="243.5" y="172.3" font-size="9.5" text-anchor="start" fill="#262626" textLength="16.3" lengthAdjust="spacingAndGlyphs">10&#937;</text>
<path d="M264.8 169H287" stroke="#EDB120" stroke-width="1.3"/>
<text x="289.4" y="172.3" font-size="9.5" text-anchor="start" fill="#262626" textLength="11.4" lengthAdjust="spacingAndGlyphs">5&#937;</text>
<rect x="370.3" y="191" width="257.2" height="99.8" fill="none" stroke="#b3b3b3" stroke-width="1.3"/>
<path d="M370.3 290.8v-2.6M370.3 191v2.6M421.74 290.8v-2.6M421.74 191v2.6M473.18 290.8v-2.6M473.18 191v2.6M524.62 290.8v-2.6M524.62 191v2.6M576.06 290.8v-2.6M576.06 191v2.6M627.5 290.8v-2.6M627.5 191v2.6M370.3 290.8v-1.5M370.3 191v1.5M383.16 290.8v-1.5M383.16 191v1.5M396.02 290.8v-1.5M396.02 191v1.5M408.88 290.8v-1.5M408.88 191v1.5M421.74 290.8v-1.5M421.74 191v1.5M434.6 290.8v-1.5M434.6 191v1.5M447.46 290.8v-1.5M447.46 191v1.5M460.32 290.8v-1.5M460.32 191v1.5M473.18 290.8v-1.5M473.18 191v1.5M486.04 290.8v-1.5M486.04 191v1.5M498.9 290.8v-1.5M498.9 191v1.5M511.76 290.8v-1.5M511.76 191v1.5M524.62 290.8v-1.5M524.62 191v1.5M537.48 290.8v-1.5M537.48 191v1.5M550.34 290.8v-1.5M550.34 191v1.5M563.2 290.8v-1.5M563.2 191v1.5M576.06 290.8v-1.5M576.06 191v1.5M588.92 290.8v-1.5M588.92 191v1.5M601.78 290.8v-1.5M601.78 191v1.5M614.64 290.8v-1.5M614.64 191v1.5M627.5 290.8v-1.5M627.5 191v1.5M370.3 290.8h2.6M627.5 290.8h-2.6M370.3 270.84h2.6M627.5 270.84h-2.6M370.3 250.88h2.6M627.5 250.88h-2.6M370.3 230.92h2.6M627.5 230.92h-2.6M370.3 210.96h2.6M627.5 210.96h-2.6M370.3 191h2.6M627.5 191h-2.6M370.3 290.8h1.5M627.5 290.8h-1.5M370.3 285.81h1.5M627.5 285.81h-1.5M370.3 280.82h1.5M627.5 280.82h-1.5M370.3 275.83h1.5M627.5 275.83h-1.5M370.3 270.84h1.5M627.5 270.84h-1.5M370.3 265.85h1.5M627.5 265.85h-1.5M370.3 260.86h1.5M627.5 260.86h-1.5M370.3 255.87h1.5M627.5 255.87h-1.5M370.3 250.88h1.5M627.5 250.88h-1.5M370.3 245.89h1.5M627.5 245.89h-1.5M370.3 240.9h1.5M627.5 240.9h-1.5M370.3 235.91h1.5M627.5 235.91h-1.5M370.3 230.92h1.5M627.5 230.92h-1.5M370.3 225.93h1.5M627.5 225.93h-1.5M370.3 220.94h1.5M627.5 220.94h-1.5M370.3 215.95h1.5M627.5 215.95h-1.5M370.3 210.96h1.5M627.5 210.96h-1.5M370.3 205.97h1.5M627.5 205.97h-1.5M370.3 200.98h1.5M627.5 200.98h-1.5M370.3 195.99h1.5M627.5 195.99h-1.5M370.3 191h1.5M627.5 191h-1.5" stroke="#8c8c8c" stroke-width="0.8" fill="none"/>
<g fill="none" stroke-linejoin="round">
<polyline points="370.8,290.8 370.8,285.8 495,285.2 610.6,283.6" stroke="#0072BD" stroke-width="2.0"/>
<polyline points="370.8,290.8 370.8,243.5 375,243.2 398.5,245 432,247.3 495,249.3 562,251 586.3,251.8 596.5,253.9 600.5,256.9 605.6,259 609.7,262 610.7,264.3" stroke="#D95319" stroke-width="1.2"/>
<polyline points="370.8,290.8 370.8,196.5 374,196.2 381.8,198 398.5,200.7 432,204.8 495,209.8 528.5,212.1 562,214.1 570,214.4 582.2,216.3 587.3,220.3 594.4,223.3 599.5,228.4 600.5,237.6 601.6,232.5 606.7,237.6 609.7,243.7 610.3,253.9" stroke="#EDB120" stroke-width="1.2"/>
<path d="M605.8,235.8L610.6,241.5L611,254L608.2,246Z" fill="#EDB120"/>
</g>
<text x="366.5" y="294.6" font-size="11" text-anchor="end" fill="#262626">20</text>
<text x="366.5" y="274.64" font-size="11" text-anchor="end" fill="#262626">40</text>
<text x="366.5" y="254.68" font-size="11" text-anchor="end" fill="#262626">60</text>
<text x="366.5" y="234.72" font-size="11" text-anchor="end" fill="#262626">80</text>
<text x="366.5" y="214.76" font-size="11" text-anchor="end" fill="#262626">100</text>
<text x="366.5" y="194.8" font-size="11" text-anchor="end" fill="#262626">120</text>
<text x="370.3" y="304" font-size="11" text-anchor="middle" fill="#262626">0.0</text>
<text x="421.74" y="304" font-size="11" text-anchor="middle" fill="#262626">2.0</text>
<text x="473.18" y="304" font-size="11" text-anchor="middle" fill="#262626">4.0</text>
<text x="524.62" y="304" font-size="11" text-anchor="middle" fill="#262626">6.0</text>
<text x="576.06" y="304" font-size="11" text-anchor="middle" fill="#262626">8.0</text>
<text x="627.5" y="304" font-size="11" text-anchor="middle" fill="#262626">10.0</text>
<text x="499.2" y="317.7" font-size="12" text-anchor="middle" fill="#262626">Time h</text>
<text x="332.1" y="242.6" font-size="12" text-anchor="middle" fill="#262626" transform="rotate(-90 332.1 242.6)" textLength="118.1" lengthAdjust="spacingAndGlyphs">Average temperature&#160; of</text>
<text x="346.6" y="244.8" font-size="12" text-anchor="middle" fill="#262626" transform="rotate(-90 346.6 244.8)" textLength="109.5" lengthAdjust="spacingAndGlyphs">short-circuit object &#176;C</text>
<text x="322.7" y="173.3" font-size="13.5" text-anchor="start" fill="#262626">(d)</text>
<rect x="429.3" y="164.3" width="140.2" height="13.3" fill="#fff" stroke="#9a9a9a" stroke-width="0.9"/>
<path d="M432 170.95H454.7" stroke="#0072BD" stroke-width="1.6"/>
<text x="457.2" y="174.25" font-size="9.5" text-anchor="start" fill="#262626" textLength="21.1" lengthAdjust="spacingAndGlyphs">100&#937;</text>
<path d="M482.8 170.95H505.4" stroke="#D95319" stroke-width="1.6"/>
<text x="508" y="174.25" font-size="9.5" text-anchor="start" fill="#262626" textLength="16.3" lengthAdjust="spacingAndGlyphs">10&#937;</text>
<path d="M530 170.95H552.4" stroke="#EDB120" stroke-width="1.6"/>
<text x="554.4" y="174.25" font-size="9.5" text-anchor="start" fill="#262626" textLength="12.1" lengthAdjust="spacingAndGlyphs">5&#937;</text>
</svg>
</body></html>
